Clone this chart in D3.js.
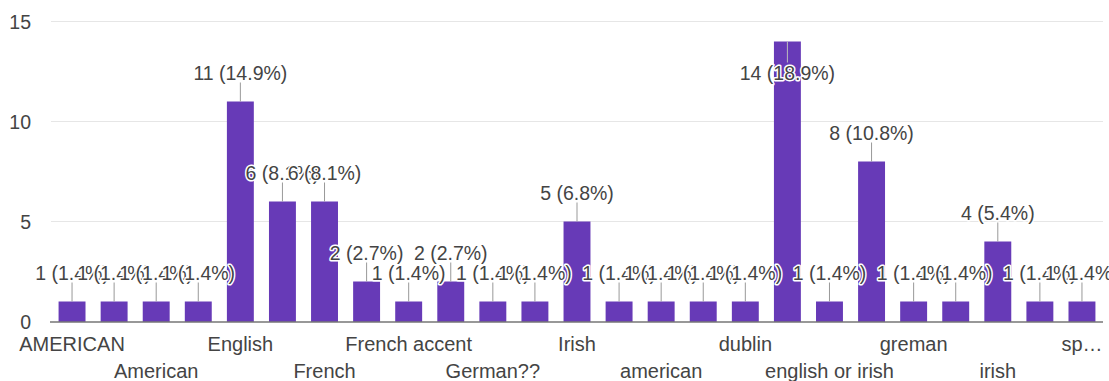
<!DOCTYPE html>
<html>
<head>
<meta charset="utf-8">
<script src="https://cdn.jsdelivr.net/npm/d3@7"></script>
<style>
  html, body { margin: 0; padding: 0; background: #fff; }
  svg { display: block; font-family: "Liberation Sans", Arial, sans-serif; }
</style>
</head>
<body>
<svg id="chart" width="1109" height="381"></svg>
<script>
// ---- data ----
const categories = [
  "AMERICAN", "America", "American", "British", "English", "English accent",
  "French", "French ", "French accent", "German", "German??", "Hindi",
  "Irish", "Spanish", "american", "british", "dublin", "english",
  "english or irish", "french", "greman", "german", "irish", "neutral", "spanish"
];
const counts = [
  1, 1, 1, 1, 11, 6,
  6, 2, 1, 2, 1, 1,
  5, 1, 1, 1, 1, 14,
  1, 8, 1, 1, 4, 1, 1
];
const tickLabels = [
  "AMERICAN", "", "American", "", "English", "",
  "French", "", "French accent", "", "German??", "",
  "Irish", "", "american", "", "dublin", "",
  "english or irish", "", "greman", "", "irish", "", "sp…"
];
const yTicks = [0, 5, 10, 15];

// ---- chart ----
const total = d3.sum(counts);
const svg = d3.select("#chart");
const plotLeft = 51, plotRight = 1103, plotTop = 21.5, plotBottom = 321.5;

const x = d3.scaleBand().domain(categories).range([plotLeft, plotRight])
  .paddingInner(0.36).paddingOuter(0.18);
const y = d3.scaleLinear().domain([0, 15]).range([plotBottom, plotTop]);

const textColor = "#444";
const barColor = "#673ab7";

// gridlines
svg.append("g").selectAll("line").data(yTicks.filter(t => t > 0)).join("line")
  .attr("x1", plotLeft).attr("x2", plotRight)
  .attr("y1", d => y(d)).attr("y2", d => y(d))
  .attr("stroke", "#e6e6e6").attr("stroke-width", 1);

// y axis labels
const yAxis = d3.axisLeft(y).tickValues(yTicks).tickSize(0).tickPadding(0).tickFormat(d3.format("d"));
const gy = svg.append("g").attr("transform", `translate(31,0)`).call(yAxis);
gy.select(".domain").remove();
gy.selectAll("text").attr("font-size", "19.5px").attr("fill", textColor)
  .attr("font-family", "Liberation Sans, Arial, sans-serif")
  .attr("dy", "0.35em");

// bars
svg.append("g").selectAll("rect").data(categories).join("rect")
  .attr("x", d => x(d)).attr("width", x.bandwidth())
  .attr("y", (d, i) => y(counts[i]))
  .attr("height", (d, i) => y(0) - y(counts[i]))
  .attr("fill", barColor);

// baseline
svg.append("line").attr("x1", plotLeft - 1).attr("x2", plotRight)
  .attr("y1", y(0) + 0.5).attr("y2", y(0) + 0.5)
  .attr("stroke", "#333").attr("stroke-width", 1.2);

// x axis labels (alternating rows)
const xAxis = d3.axisBottom(x).tickSize(0).tickFormat((d, i) => tickLabels[i]);
const gx = svg.append("g").attr("transform", `translate(0,${y(0)})`).call(xAxis);
gx.select(".domain").remove();
gx.selectAll("text")
  .attr("font-size", "20px").attr("fill", textColor)
  .attr("font-family", "Liberation Sans, Arial, sans-serif")
  .attr("dy", null)
  .attr("y", d => (categories.indexOf(d) % 4 === 0 ? 29 : 56.5));

// annotations (stem + label), drawn in order so later ones overlap earlier ones
const ann = svg.append("g");
categories.forEach((c, i) => {
  const cx = x(c) + x.bandwidth() / 2;
  const yt = y(counts[i]);
  const label = `${counts[i]} (${d3.format(".1f")(counts[i] / total * 100)}%)`;
  const outside = yt - 21 - 15 >= plotTop;
  const g = ann.append("g");
  const stemEnd = outside ? yt - 19 : yt + 21;
  const textY = outside ? yt - 21.5 : yt + 38.5;
  g.append("line").attr("x1", cx).attr("x2", cx).attr("y1", yt).attr("y2", stemEnd)
    .attr("stroke", outside ? "#999" : "#bbb").attr("stroke-width", 1);
  g.append("text").attr("x", cx).attr("y", textY)
    .attr("text-anchor", "middle").attr("font-size", "19.5px")
    .attr("fill", textColor).attr("stroke", "#fff").attr("stroke-width", 3)
    .attr("paint-order", "stroke").attr("stroke-linejoin", "round")
    .text(label);
});
</script>
</body>
</html>
